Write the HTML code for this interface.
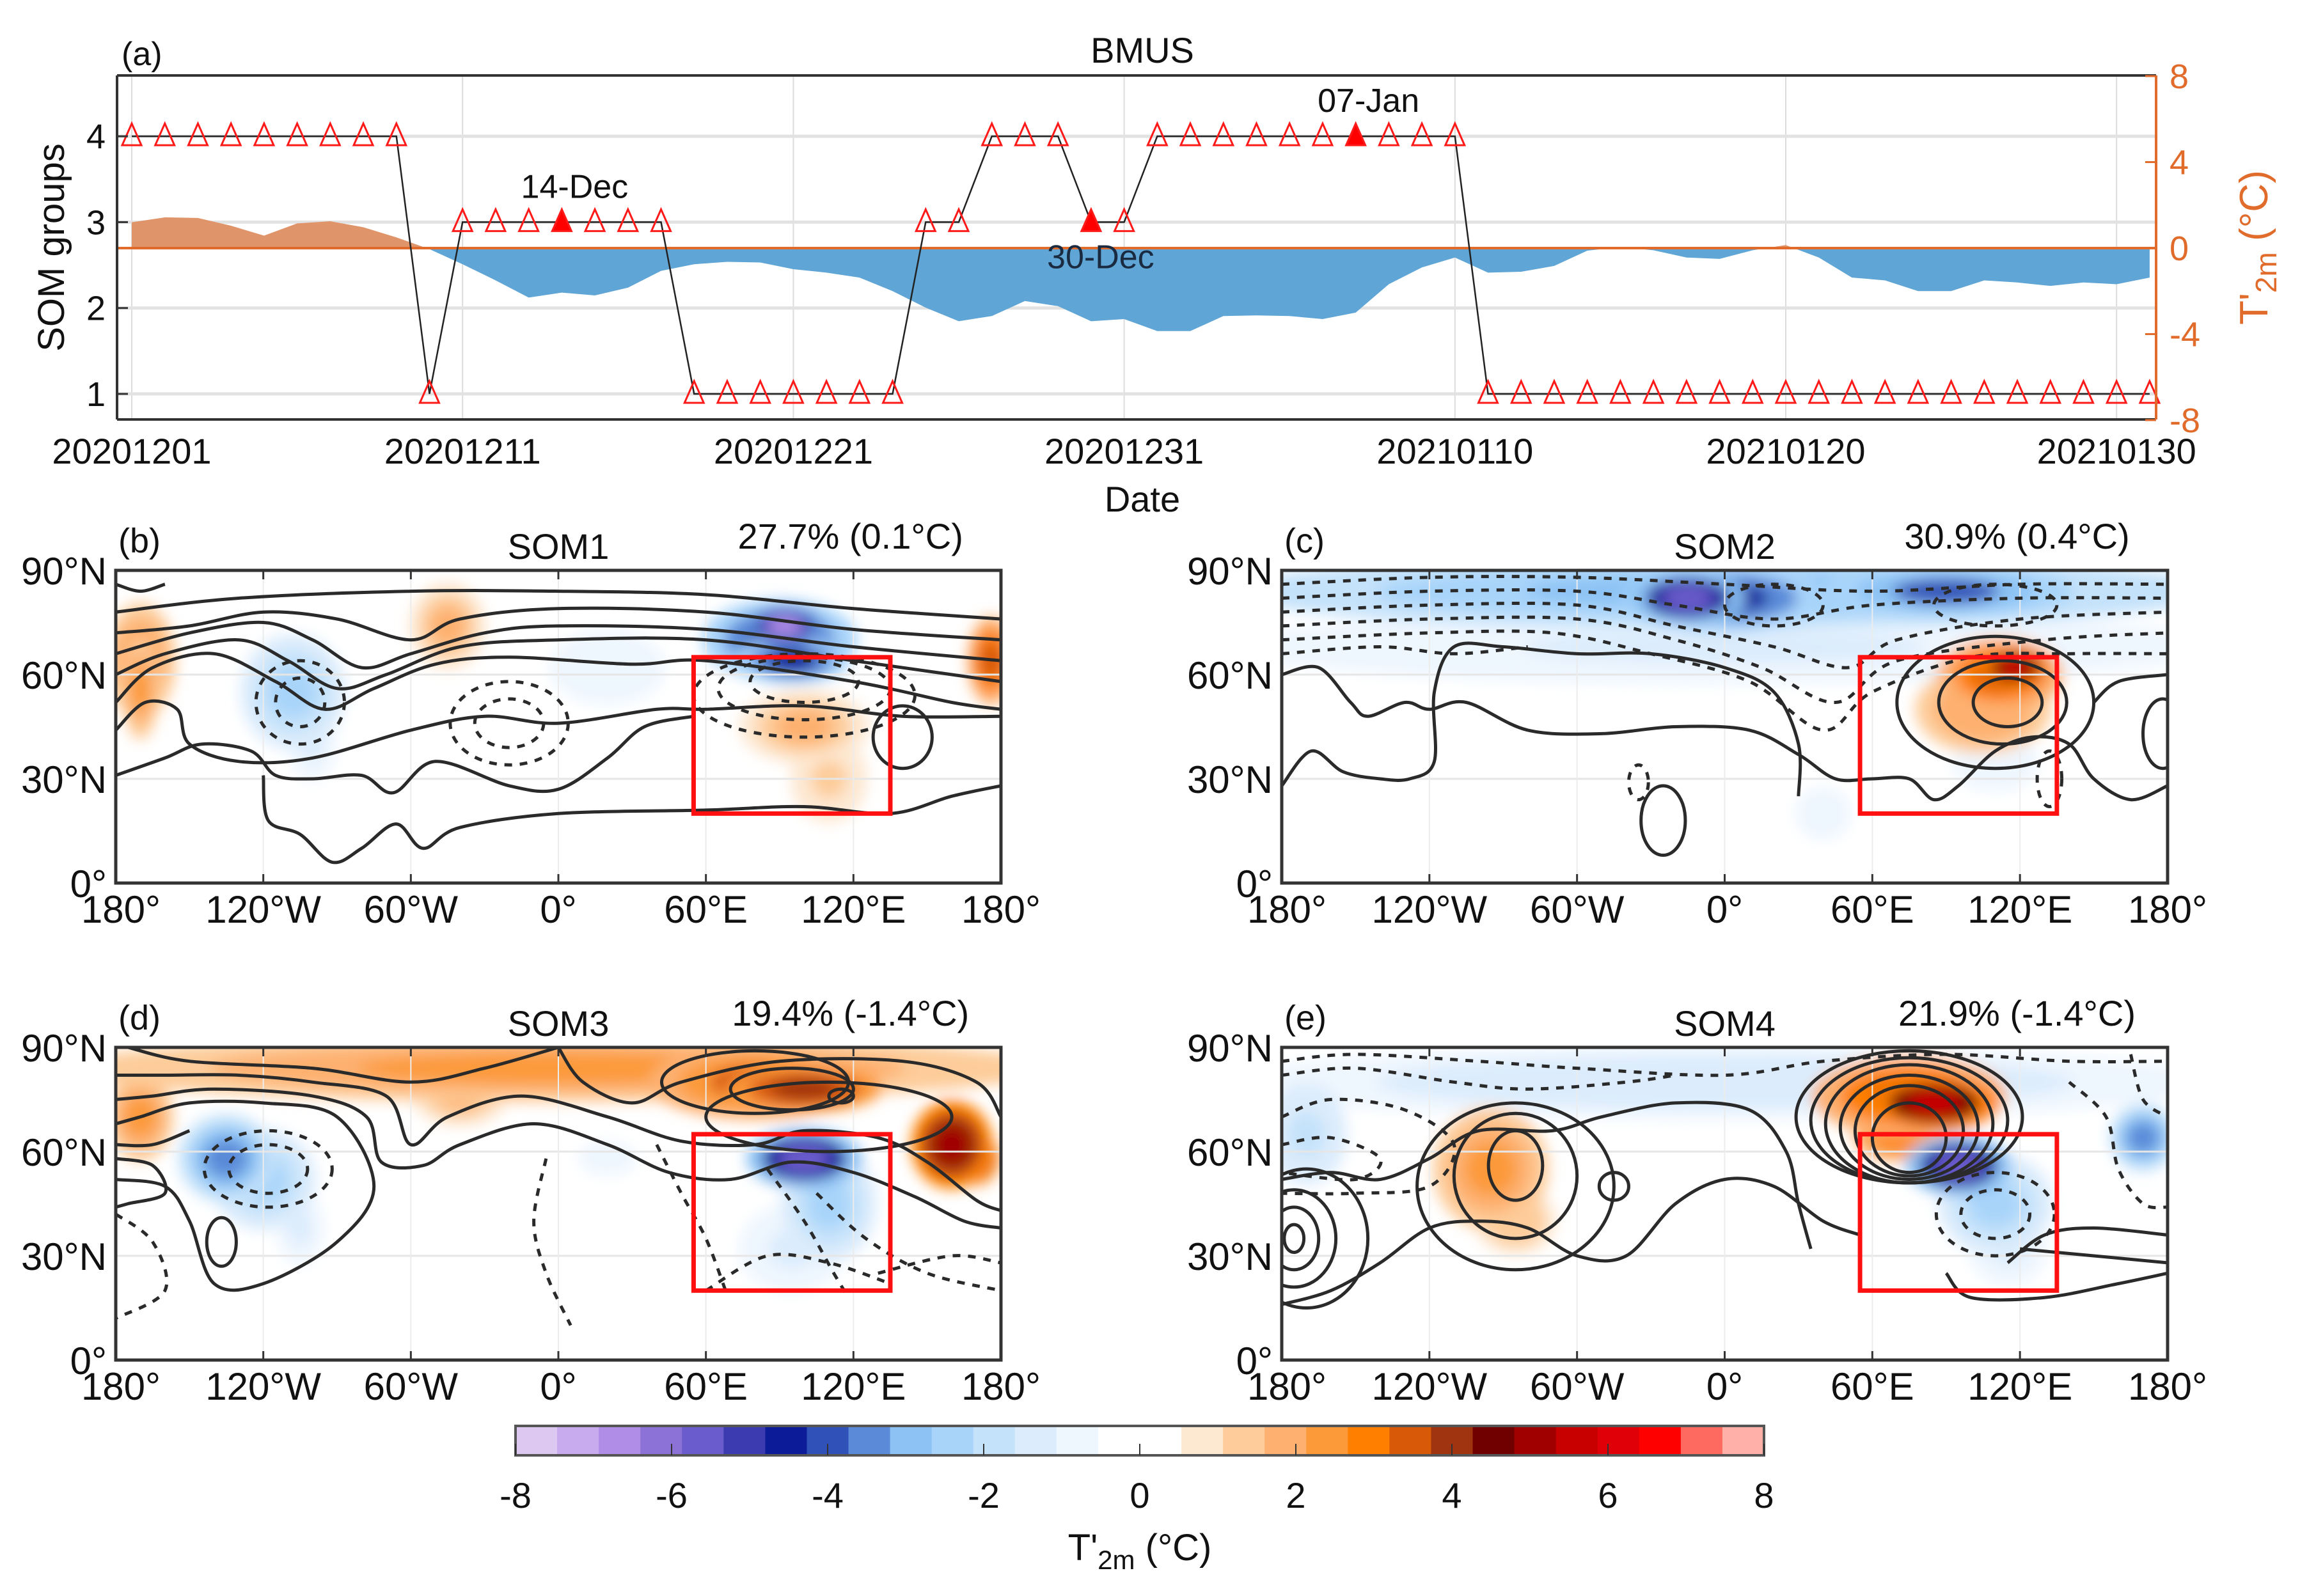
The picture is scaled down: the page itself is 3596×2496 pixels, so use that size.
<!DOCTYPE html>
<html><head><meta charset="utf-8"><style>
html,body{margin:0;padding:0;background:#fff;}
svg{display:block;font-family:"Liberation Sans",Arial,sans-serif;}
</style></head><body>
<svg id="fig" width="3596" height="2496" viewBox="0 0 3596 2496" xmlns="http://www.w3.org/2000/svg">
<defs>
<filter id="blur" x="-50%" y="-50%" width="200%" height="200%"><feGaussianBlur stdDeviation="11"/></filter>
<clipPath id="clipPos"><rect x="183" y="118" width="3188" height="270"/></clipPath>
<clipPath id="clipNeg"><rect x="183" y="388" width="3188" height="268"/></clipPath>
</defs>
<g id="panelA"></g>
<g id="maps"></g>
<g id="cbar"></g>
</svg>
<script>
// ===== Panel (a) data =====
const groups = [4,4,4,4,4,4,4,4,4,1,3,3,3,3,3,3,3,1,1,1,1,1,1,1,3,3,4,4,4,3,3,4,4,4,4,4,4,4,4,4,4,1,1,1,1,1,1,1,1,1,1,1,1,1,1,1,1,1,1,1,1,1];
const temps = [1.2,1.43,1.4,1.04,0.58,1.15,1.25,0.97,0.5,-0.05,-0.75,-1.5,-2.3,-2.07,-2.2,-1.84,-1.06,-0.75,-0.64,-0.67,-0.98,-1.14,-1.37,-2.0,-2.77,-3.4,-3.16,-2.46,-2.7,-3.4,-3.3,-3.86,-3.86,-3.16,-3.13,-3.16,-3.3,-3.0,-1.68,-0.9,-0.44,-1.14,-1.1,-0.83,-0.12,0.05,-0.1,-0.44,-0.5,-0.1,0.14,-0.44,-1.37,-1.5,-2.0,-2.0,-1.5,-1.6,-1.76,-1.6,-1.68,-1.37];
const dateTicks = ["20201201","20201211","20201221","20201231","20210110","20210120","20210130"];
const dateTickDays = [0,10,20,30,40,50,60];
const groupTicks = [1,2,3,4];
const tempTicks = [8,4,0,-4,-8];
const highlightDays = [13,29,37];
const highlightLabels = ["14-Dec","30-Dec","07-Jan"];

const NS="http://www.w3.org/2000/svg";
function mk(tag,attrs,parent){const e=document.createElementNS(NS,tag);for(const k in attrs)e.setAttribute(k,attrs[k]);parent.appendChild(e);return e;}
const ORANGE="#e06b2a";
const A=document.getElementById('panelA');
const xD=d=>206+d*51.72;
const yG=g=>616-(g-1)*134.3;
const yT=t=>388-t*33.625;

dateTickDays.forEach((d,i)=>{
  let l=mk('line',{x1:xD(d),x2:xD(d),y1:118,y2:656,stroke:'#dcdcdc','stroke-width':2},A);
  
});
groupTicks.forEach(g=>{
  let l=mk('line',{x1:183,x2:3371,y1:yG(g),y2:yG(g),stroke:'#e2e2e2','stroke-width':5},A);
  
});
let pts=[[xD(0),yT(0)]];temps.forEach((t,i)=>pts.push([xD(i),yT(t)]));pts.push([xD(temps.length-1),yT(0)]);
const pstr=pts.map(p=>p.join(',')).join(' ');
let ap=mk('polygon',{points:pstr,fill:'#e0946a','clip-path':'url(#clipPos)'},A);

let an=mk('polygon',{points:pstr,fill:'#5fa5d5','clip-path':'url(#clipNeg)'},A);

let zl=mk('line',{x1:183,x2:3371,y1:yT(0),y2:yT(0),stroke:ORANGE,'stroke-width':4},A);

let gl=mk('polyline',{points:groups.map((g,i)=>xD(i)+','+yG(g)).join(' '),fill:'none',stroke:'#222','stroke-width':2.5},A);

groups.forEach((g,i)=>{
  const x=xD(i),y=yG(g);const hl=highlightDays.includes(i);
  let t=mk('polygon',{points:`${x},${y-20} ${x-15},${y+14} ${x+15},${y+14}`,fill:hl?'#ff0000':'none',stroke:'#ff1a1a','stroke-width':3},A);
  
});
highlightDays.forEach((d,i)=>{
  const g=groups[d];const below=(i===1);
  let t=mk('text',{x:xD(d)+(below?15:20),y:below?yG(g)+72:yG(g)-38,'font-size':52,'text-anchor':'middle',fill:below?'#1a2a40':'#111'},A);
  t.textContent=highlightLabels[i];
  
});
let fr=mk('path',{d:'M183,118 H3371 M183,656 H3371 M183,118 V656',stroke:'#333','stroke-width':4,fill:'none'},A);

let ra=mk('line',{x1:3371,x2:3371,y1:118,y2:656,stroke:ORANGE,'stroke-width':4},A);

groupTicks.forEach(g=>{
  mk('line',{x1:183,x2:200,y1:yG(g),y2:yG(g),stroke:'#333','stroke-width':3},A);
  let t=mk('text',{x:165,y:yG(g)+19,'font-size':54,'text-anchor':'end',fill:'#111'},A);t.textContent=g;
  
});
tempTicks.forEach(v=>{
  mk('line',{x1:3354,x2:3371,y1:yT(v),y2:yT(v),stroke:ORANGE,'stroke-width':3},A);
  let t=mk('text',{x:3392,y:yT(v)+19,'font-size':54,fill:ORANGE},A);t.textContent=v;
  
});
dateTickDays.forEach((d,i)=>{
  let t=mk('text',{x:xD(d),y:725,'font-size':56,'text-anchor':'middle',fill:'#111'},A);t.textContent=dateTicks[i];
  
});
(function(){
  let t=mk('text',{x:1786,y:800,'font-size':56,'text-anchor':'middle',fill:'#111'},A);t.textContent='Date';
  
  t=mk('text',{x:1786,y:98,'font-size':56,'text-anchor':'middle',fill:'#111'},A);t.textContent='BMUS';
  
  t=mk('text',{x:190,y:102,'font-size':52,fill:'#111'},A);t.textContent='(a)';
  
  t=mk('text',{x:0,y:0,'font-size':58,'text-anchor':'middle',fill:'#111',transform:'translate(100,387) rotate(-90)'},A);t.textContent='SOM groups';
  
  t=mk('text',{x:0,y:0,'font-size':62,'text-anchor':'middle',fill:ORANGE,transform:'translate(3545,387) rotate(-90)'},A);
  t.innerHTML='T\'<tspan font-size="46" dy="14">2m</tspan><tspan dy="-14"> (°C)</tspan>';
  
})();

// ===== Colorscale =====
const cbColors=["#dcc8f0","#c8aaee","#b08ee8","#8c72d6","#6a5ccc","#3c3cb0","#0c1c98","#3052b8","#5a8ad8","#8cc2f4","#a8d4fa","#c4e2fa","#dcecfc","#eef6fe","#ffffff","#ffffff","#fde8d2","#fdcc9a","#fdb070","#fc9a3a","#ff8000","#d85a08","#a03410","#700000","#a00000","#c80000","#e00008","#ff0000","#ff6a60","#ffb0a8"];
const cbTicks=[-8,-6,-4,-2,0,2,4,6,8];
function colorOf(v){let i=Math.floor((v+8)/(16/30));i=Math.max(0,Math.min(29,i));return cbColors[i];}
const C=document.getElementById('cbar');
const cbL=806,cbR=2758,cbT=2230,cbB=2276;
cbColors.forEach((c,i)=>{
  const w=(cbR-cbL)/30;
  let r=mk('rect',{x:cbL+i*w,y:cbT,width:w+0.6,height:cbB-cbT,fill:c},C);
  
});
mk('rect',{x:cbL,y:cbT,width:cbR-cbL,height:cbB-cbT,fill:'none',stroke:'#555','stroke-width':4},C);
cbTicks.forEach(v=>{
  const x=cbL+(v+8)/16*(cbR-cbL);
  mk('line',{x1:x,x2:x,y1:cbB-18,y2:cbB,stroke:'#333','stroke-width':2},C);
  let t=mk('text',{x:x,y:2358,'font-size':56,'text-anchor':'middle',fill:'#111'},C);t.textContent=v;
  
});
(function(){let t=mk('text',{x:1782,y:2440,'font-size':58,'text-anchor':'middle',fill:'#111'},C);
t.innerHTML='T\'<tspan font-size="42" dy="14">2m</tspan><tspan dy="-14"> (°C)</tspan>';
})();

// ===== Maps =====
const lonTicks=["180°","120°W","60°W","0°","60°E","120°E","180°"];
const latTicks=["0°","30°N","60°N","90°N"];
const panels=[
 {id:'b',L:181,R:1565,T:892,B:1381,label:'(b)',title:'SOM1',stat:'27.7% (0.1°C)',
  blobs:[[-170,64,13,16,2.2],[-45,74,14,12,1.6],[-108,55,20,16,-2.3],[-100,40,8,10,-1.2],[20,62,22,10,-1],[90,70,30,11,-4.5],[95,64,22,6,-4.5],[92,74,14,5,-6.5],[100,45,25,10,1.6],[110,30,14,12,1.3],[176,64,8,12,3.5],[-170,56,6,14,2.6]],
  solid:[[[-180,86],[-170,84],[-160,86]],[[-180,78],[-130,82],[-60,84],[0,84],[60,83],[120,79],[180,76]],[[-180,72],[-150,74],[-120,78],[-90,76],[-60,70],[-40,76],[0,79],[60,78],[120,73],[180,70]],[[-180,66],[-150,72],[-120,75],[-100,70],[-80,62],[-60,66],[-30,72],[0,74],[60,73],[120,68],[180,64]],[[-180,60],[-160,66],[-130,70],[-110,64],[-90,56],[-70,60],[-40,68],[0,70],[60,70],[120,64],[160,60],[180,58]],[[-180,52],[-165,62],[-140,66],[-115,58],[-95,50],[-75,56],[-50,63],[-20,65],[30,63],[60,64],[120,58],[160,52],[180,50]],[[-180,44],[-168,52],[-155,50],[-150,40],[-130,35],[-100,36],[-60,44],[-30,48],[0,46],[40,50],[60,50],[100,51],[140,48],[180,48]],[[-180,31],[-160,36],[-145,40],[-125,38],[-115,31],[-100,30],[-80,31],[-67,26],[-50,35],[-20,28],[0,27],[20,36],[35,45],[55,48]],[[-120,31],[-118,18],[-105,14],[-92,6],[-80,10],[-66,17],[-55,10],[-40,16],[0,20],[60,21],[100,22],[135,20],[160,25],[180,28]]],
  dashed:[],
  loops:[[-105,52,18,12,1],[-105,52,10,7,1],[-20,46,24,12,1],[-20,46,14,7,1],[100,54,45,12,1],[100,56,35,9,1],[100,58,22,6,1],[140,42,12,9,0]]},
 {id:'c',L:2004,R:3389,T:892,B:1381,label:'(c)',title:'SOM2',stat:'30.9% (0.4°C)',
  blobs:[[0,84,200,10,-3.2],[0,68,200,10,-1.2],[0,82,40,9,-4.5],[-15,82,22,7,-5.5],[90,84,50,7,-4],[112,60,24,10,3.5],[105,50,26,12,2],[118,62,12,5,5.5],[110,35,16,8,-1],[40,20,14,10,-0.9]],
  solid:[[[-180,60],[-165,62],[-152,52],[-145,48],[-130,52],[-120,50],[-105,52],[-80,44],[-50,43],[-20,45],[10,44],[30,37],[45,30],[60,30],[75,30],[85,24],[95,28],[110,38],[125,42],[140,40],[150,30],[165,24],[180,28]],[[-180,28],[-168,38],[-155,32],[-140,30],[-128,30],[-118,35],[-118,55],[-110,68],[-90,68],[-60,66],[-30,66],[0,62],[20,55],[30,40],[30,25]],[[180,60],[160,58],[150,52]]],
  dashed:[[[-180,86],[-120,88],[-60,88],[0,86],[60,84],[120,86],[180,86]],[[-180,82],[-120,84],[-60,84],[-20,80],[20,76],[60,80],[120,82],[180,82]],[[-180,78],[-120,80],[-60,80],[-20,74],[20,68],[50,62],[70,70],[120,76],[180,78]],[[-180,74],[-120,76],[-60,76],[-20,70],[15,62],[45,52],[70,64],[130,70],[180,72]],[[-180,70],[-120,72],[-70,72],[-30,66],[10,58],[40,44],[60,55],[100,65],[140,66],[180,66]],[[-180,66],[-140,68],[-110,66],[-80,68]]],
  loops:[[115,52,14,7,0],[113,52,26,12,0],[110,52,40,19,0],[178,43,8,10,0],[-25,18,9,10,0],[-35,29,4,5,1],[132,30,5,8,1],[20,80,20,6,1],[110,80,25,6,1]]},
 {id:'d',L:181,R:1565,T:1638,B:2127,label:'(d)',title:'SOM3',stat:'19.4% (-1.4°C)',
  blobs:[[0,84,200,9,2.6],[-170,70,12,12,2.2],[-40,76,18,8,1.8],[80,80,42,10,3.2],[100,78,30,6,4],[160,62,15,12,5],[170,58,8,7,4.5],[-135,58,18,12,-3.5],[-120,52,20,14,-2.2],[-105,38,8,10,-1.2],[100,58,22,8,-5.5],[110,45,18,16,-2.4],[95,32,20,12,-1.2],[20,58,15,6,-0.9]],
  solid:[[[-175,90],[-150,86],[-100,84],[-60,80],[-30,84],[0,90]],[[-180,82],[-160,82],[-130,82],[-100,80],[-70,76],[-60,62],[-45,70],[-15,76],[20,70],[50,63],[80,62],[100,66],[130,64],[150,57],[170,46],[180,43]],[[-180,75],[-165,76],[-140,78],[-100,76],[-78,70],[-72,57],[-55,56],[-40,62],[-10,68],[20,62],[45,54],[70,52],[95,57],[120,54],[145,47],[165,40],[180,38]],[[-180,68],[-170,70],[-150,74],[-120,74],[-90,70],[-75,50],[-90,34],[-120,22],[-140,22],[-150,40],[-160,50],[-180,52]],[[-180,62],[-165,62],[-150,66]],[[-180,58],[-165,56],[-160,48],[-175,45],[-180,44]],[[0,90],[10,80],[30,74],[50,80],[90,86],[140,86],[170,80],[180,70]]],
  dashed:[[[40,62],[50,48],[60,35],[68,20]],[[85,55],[100,40],[112,25],[118,18]],[[105,48],[125,35],[150,25],[180,20]],[[60,20],[85,30],[110,28],[135,22]],[[130,25],[160,30],[180,28]],[[-5,58],[-10,40],[-5,25],[5,10]],[[-180,42],[-165,34],[-160,20],[-180,12]]],
  loops:[[-118,55,26,11,1],[-118,55,16,7,1],[-137,34,6,7,0],[80,80,38,9,0],[95,78,25,6,0],[115,76,5,2,0],[110,70,50,10,0]]},
 {id:'e',L:2004,R:3389,T:1638,B:2127,label:'(e)',title:'SOM4',stat:'21.9% (-1.4°C)',
  blobs:[[0,80,200,10,-1.4],[-170,65,15,14,-2],[170,64,12,9,-3.5],[-95,55,22,17,2.6],[-85,40,15,9,1.4],[75,76,38,11,3.5],[85,74,24,7,5.5],[70,64,16,6,3],[95,56,20,8,-5.5],[110,45,22,14,-2.6],[115,32,14,10,-1.3],[-20,85,20,5,-0.9]],
  solid:[[[-180,16],[-160,20],[-140,28],[-120,38],[-100,40],[-80,38],[-60,30],[-40,30],[-20,45],[0,52],[20,50],[40,40],[55,36]],[[-180,52],[-160,54],[-140,52],[-120,58],[-100,66],[-70,66],[-50,70],[-20,74],[10,72],[25,60],[30,45],[35,32]],[[90,25],[100,18],[130,18],[160,22],[180,25]],[[115,28],[130,36],[150,38],[180,36]],[[120,32],[150,30],[180,28]]],
  dashed:[[[-180,86],[-150,88],[-100,86],[-60,84],[0,82],[40,86],[90,88],[140,86],[180,86]],[[-180,82],[-150,84],[-110,80],[-80,78],[-40,80],[-20,82]],[[-180,70],[-160,75],[-130,72],[-110,62],[-120,50],[-150,48],[-180,48]],[[-180,62],[-160,64],[-140,58],[-150,52],[-180,54]],[[140,80],[155,70],[160,55],[170,45],[180,44]],[[165,88],[170,75],[180,70]]],
  loops:[[75,64,15,10,0],[75,66,22,13,0],[75,67,28,15,0],[75,68,34,17,0],[75,69,40,18,0],[75,70,46,19,0],[-85,56,11,10,0],[-85,53,25,18,0],[-85,50,40,24,0],[-45,50,6,4,0],[-175,35,4,4,0],[-175,35,10,9,0],[-175,35,17,14,0],[-170,35,25,20,0],[110,42,14,7,1],[110,42,24,12,1]]}
];

function smoothPath(pp){
  if(pp.length<3)return 'M'+pp.map(p=>p.join(',')).join(' L');
  let d='M'+pp[0][0]+','+pp[0][1];
  for(let i=0;i<pp.length-1;i++){
    const p0=pp[Math.max(0,i-1)],p1=pp[i],p2=pp[i+1],p3=pp[Math.min(pp.length-1,i+2)];
    const c1=[p1[0]+(p2[0]-p0[0])/6,p1[1]+(p2[1]-p0[1])/6],c2=[p2[0]-(p3[0]-p1[0])/6,p2[1]-(p3[1]-p1[1])/6];
    d+=` C${c1[0].toFixed(1)},${c1[1].toFixed(1)} ${c2[0].toFixed(1)},${c2[1].toFixed(1)} ${p2[0].toFixed(1)},${p2[1].toFixed(1)}`;
  }
  return d;
}
const M=document.getElementById('maps');
panels.forEach(P=>{
  const g=mk('g',{},M);
  
  
  const X=lon=>P.L+(lon+180)/360*(P.R-P.L), Y=lat=>P.B-lat/90*(P.B-P.T);
  const cid='clip'+P.id;
  const cp=mk('clipPath',{id:cid},g);mk('rect',{x:P.L,y:P.T,width:P.R-P.L,height:P.B-P.T},cp);
  const inner=mk('g',{'clip-path':`url(#${cid})`},g);
  const fld=mk('g',{filter:'url(#blur)'},inner);
  
  
  const sx=(P.R-P.L)/360, sy=(P.B-P.T)/90;
  P.blobs.slice().sort((a,b)=>Math.abs(a[4])-Math.abs(b[4])).forEach(b=>{
    [[1,0.55],[0.7,0.8],[0.4,1]].forEach(([f,k])=>{
      const e=mk('ellipse',{cx:X(b[0]),cy:Y(b[1]),rx:b[2]*sx*f+6,ry:b[3]*sy*f+4,fill:colorOf(b[4]*k)},fld);
      
      
    });
  });
  [30,60].forEach(lat=>mk('line',{x1:P.L,x2:P.R,y1:Y(lat),y2:Y(lat),stroke:'#e6e6e6','stroke-width':3},inner));
  [-120,-60,0,60,120].forEach(lon=>mk('line',{x1:X(lon),x2:X(lon),y1:P.T,y2:P.B,stroke:'#ececec','stroke-width':2},inner));
  P.solid.forEach(c=>{
    const p=mk('path',{d:smoothPath(c.map(q=>[X(q[0]),Y(q[1])])),fill:'none',stroke:'#2a2a2a','stroke-width':5},inner);
    
    
  });
  P.dashed.forEach(c=>{
    const p=mk('path',{d:smoothPath(c.map(q=>[X(q[0]),Y(q[1])])),fill:'none',stroke:'#2a2a2a','stroke-width':5,'stroke-dasharray':'12 12'},inner);
    
    
  });
  P.loops.forEach(l=>{
    const e=mk('ellipse',{cx:X(l[0]),cy:Y(l[1]),rx:l[2]*sx,ry:l[3]*sy,fill:'none',stroke:'#2a2a2a','stroke-width':5},inner);
    if(l[4])e.setAttribute('stroke-dasharray','12 12');
    
    
  });
  const box=mk('rect',{x:X(55),y:Y(65),width:X(135)-X(55),height:Y(20)-Y(65),fill:'none',stroke:'#ff1010','stroke-width':7},g);
  
  
  const fr=mk('rect',{x:P.L,y:P.T,width:P.R-P.L,height:P.B-P.T,fill:'none',stroke:'#333','stroke-width':5},g);
  
  
  lonTicks.forEach((s,i)=>{
    const x=P.L+i*(P.R-P.L)/6;
    mk('line',{x1:x,x2:x,y1:P.B-14,y2:P.B,stroke:'#333','stroke-width':3},g);
    mk('line',{x1:x,x2:x,y1:P.T,y2:P.T+14,stroke:'#333','stroke-width':3},g);
    const t=mk('text',{x:x+(i===0?8:0),y:P.B+62,'font-size':60,'text-anchor':'middle',fill:'#111'},g);t.textContent=s;
    
    
  });
  latTicks.forEach((s,i)=>{
    const y=P.B-i*(P.B-P.T)/3;
    const t=mk('text',{x:P.L-14,y:y+22,'font-size':60,'text-anchor':'end',fill:'#111'},g);t.textContent=s;
    
    
  });
  const w=P.R-P.L;
  let t=mk('text',{x:P.L+4,y:P.T-28,'font-size':54,fill:'#111'},g);t.textContent=P.label;
  
  t=mk('text',{x:P.L+w*0.5,y:P.T-18,'font-size':56,'text-anchor':'middle',fill:'#111'},g);t.textContent=P.title;
  
  t=mk('text',{x:P.L+w*0.83,y:P.T-34,'font-size':56,'text-anchor':'middle',fill:'#111'},g);t.textContent=P.stat;
  
});
</script>
</body></html>
